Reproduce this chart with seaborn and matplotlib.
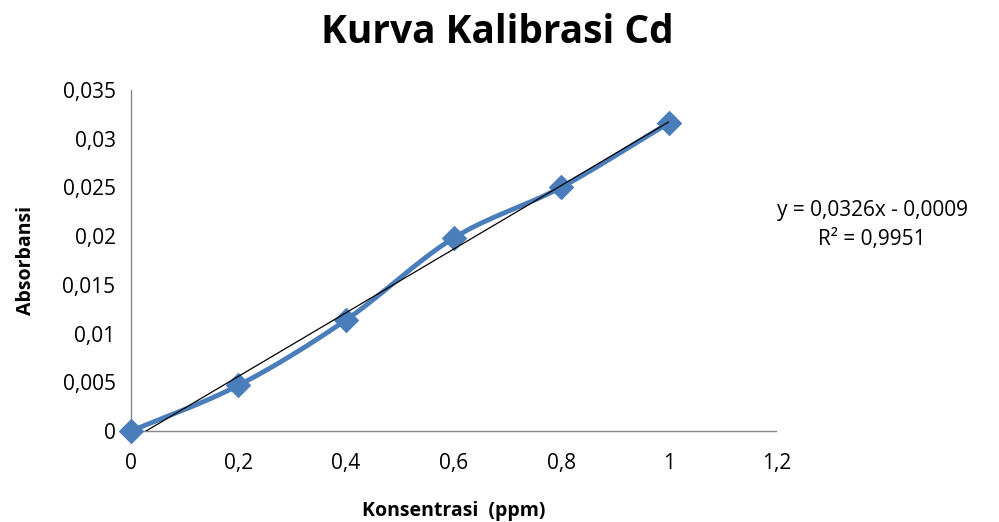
import numpy as np
import matplotlib
matplotlib.use("Agg")
import matplotlib.pyplot as plt
import seaborn as sns
import pandas as pd

konsentrasi = [0.0, 0.2, 0.4, 0.6, 0.8, 1.0]
absorbansi = [0.0, 0.0047, 0.0114, 0.0198, 0.0250, 0.0316]
slope = 0.0326
intercept = -0.0009
x_ticks = [0, 0.2, 0.4, 0.6, 0.8, 1.0, 1.2]
y_ticks = [0, 0.005, 0.01, 0.015, 0.02, 0.025, 0.03, 0.035]

sns.set_style("white")
plt.rcParams['font.family'] = ['Open Sans', 'DejaVu Sans']
plt.rcParams['text.color'] = 'black'
plt.rcParams['xtick.color'] = '#888888'
plt.rcParams['ytick.color'] = '#888888'
plt.rcParams['xtick.labelcolor'] = 'black'
plt.rcParams['ytick.labelcolor'] = 'black'
plt.rcParams['axes.labelcolor'] = 'black'

def fmt(v):
    return ('%g' % v).replace('.', ',')

def catmull_rom(x, y, n=30):
    x = np.asarray(x); y = np.asarray(y)
    px = np.concatenate([[2*x[0]-x[1]], x, [2*x[-1]-x[-2]]])
    py = np.concatenate([[2*y[0]-y[1]], y, [2*y[-1]-y[-2]]])
    xs, ys = [], []
    t = np.linspace(0, 1, n)
    for i in range(1, len(px)-2):
        for arr, out in ((px, xs), (py, ys)):
            p0, p1, p2, p3 = arr[i-1], arr[i], arr[i+1], arr[i+2]
            out.extend(0.5*((2*p1) + (-p0+p2)*t + (2*p0-5*p1+4*p2-p3)*t**2 + (-p0+3*p1-3*p2+p3)*t**3))
    return np.array(xs), np.array(ys)

fig = plt.figure(figsize=(9.99, 5.22), dpi=100)
ax = fig.add_axes([0.131, 0.174, 0.646, 0.654])

color = '#4A7EBB'
sx, sy = catmull_rom(konsentrasi, absorbansi)
ax.plot(sx, sy, color=color, lw=3.5, solid_capstyle='round', zorder=2, clip_on=False)
df = pd.DataFrame({'x': konsentrasi, 'y': absorbansi})
sns.scatterplot(data=df, x='x', y='y', ax=ax, marker='D', s=170, color=color,
                edgecolor=color, linewidth=0, zorder=3, clip_on=False)
tx = np.array([konsentrasi[0], konsentrasi[-1]])
ax.plot(tx, slope*tx + intercept, color='black', lw=0.9, zorder=4)

ax.set_xlim(0, 1.2)
ax.set_ylim(0, 0.035)
ax.set_xticks(x_ticks)
ax.set_yticks(y_ticks)
ax.set_xticklabels([fmt(v) for v in x_ticks], fontsize=15)
ax.set_yticklabels([fmt(v) for v in y_ticks], fontsize=15)
ax.tick_params(axis='both', direction='out', length=7, width=1, pad=9)
ax.tick_params(axis='y', pad=4)
for s in ['top', 'right']:
    ax.spines[s].set_visible(False)
for s in ['left', 'bottom']:
    ax.spines[s].set_color('#888888')
    ax.spines[s].set_linewidth(1)
ax.set_xlabel('Konsentrasi  (ppm)', fontsize=14, fontweight='bold', labelpad=19)
ax.set_ylabel('Absorbansi', fontsize=14, fontweight='bold', labelpad=19)
ax.grid(False)

fig.text(0.498, 0.937, 'Kurva Kalibrasi Cd', ha='center', va='center',
         fontsize=28, fontweight='bold')
fig.text(0.873, 0.569, 'y = 0,0326x - 0,0009\nR² = 0,9951', ha='center', va='center',
         fontsize=15, linespacing=1.5)

fig.savefig('out.png', dpi=100)
